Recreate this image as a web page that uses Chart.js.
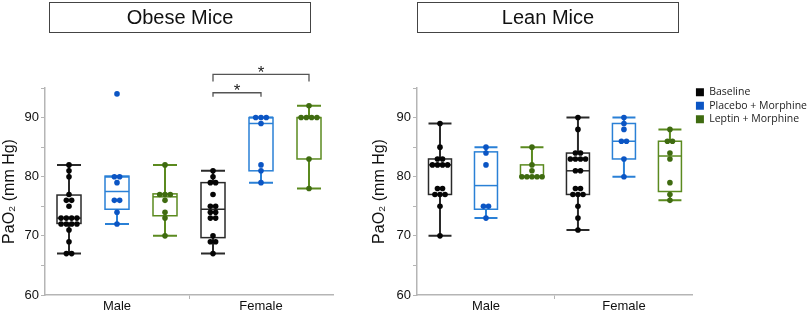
<!DOCTYPE html>
<html>
<head>
<meta charset="utf-8">
<script src="https://cdn.jsdelivr.net/npm/chart.js@4.4.0/dist/chart.umd.min.js"></script>
<style>
body{margin:0;background:#fff;width:809px;height:312px;overflow:hidden;position:relative;font-family:"Liberation Sans",Arial,sans-serif;}
.ttl{position:absolute;top:2px;width:262px;height:31px;box-sizing:border-box;border:1.5px solid #444;text-align:center;font-size:20px;line-height:28px;color:#111;}
.wrap{position:absolute;top:0;height:312px;}
</style>
</head>
<body>
<div class="wrap" style="left:0;width:370px"><canvas id="obese" width="370" height="312"></canvas></div>
<div class="wrap" style="left:370px;width:439px"><canvas id="lean" width="439" height="312"></canvas></div>
<div class="ttl" style="left:49px">Obese Mice</div>
<div class="ttl" style="left:417px">Lean Mice</div>
<script>
// groups and treatments
var sexes = ['Male', 'Female'];
var treatments = ['Baseline', 'Placebo + Morphine', 'Leptin + Morphine'];
var yTicks = [60, 70, 80, 90];

// obese mice, PaO2 values per animal
var obeseBaselineMale = [82, 81, 80, 77, 76, 76, 75, 73, 73, 73, 73, 72, 72, 72, 72, 71, 69, 67, 67];
var obesePlaceboMale = [94, 80, 80, 79, 76, 76, 74, 72];
var obeseLeptinMale = [82, 77, 77, 77, 76, 74, 73, 70];
var obeseBaselineFemale = [81, 80, 79, 79, 77, 75, 75, 74, 74, 73, 73, 70, 69, 69, 67];
var obesePlaceboFemale = [90, 90, 90, 89, 82, 81, 79];
var obeseLeptinFemale = [92, 90, 90, 90, 90, 83, 78];

// lean mice
var leanBaselineMale = [89, 85, 83, 83, 82, 82, 82, 82, 78, 78, 77, 77, 77, 75, 70];
var leanPlaceboMale = [85, 84, 82, 75, 75, 73];
var leanLeptinMale = [85, 82, 81, 80, 80, 80, 80, 80];
var leanBaselineFemale = [90, 88, 84, 84, 83, 83, 83, 83, 81, 81, 78, 78, 77, 77, 77, 75, 73, 71];
var leanPlaceboFemale = [90, 89, 88, 86, 86, 83, 80];
var leanLeptinFemale = [88, 86, 86, 84, 83, 79, 77, 76];

// box stats [whisker low, q1, median, q3, whisker high]
var obeseBoxBaselineMale = [67, 72.1, 73, 76.9, 82];
var obeseBoxPlaceboMale = [72, 74.5, 77.5, 80.1, 80];
var obeseBoxLeptinMale = [70, 73.4, 76.6, 77.1, 82];
var obeseBoxBaselineFemale = [67, 69.7, 74.5, 79, 81];
var obeseBoxPlaceboFemale = [79, 81, 89, 90, 90];
var obeseBoxLeptinFemale = [78, 83, 90, 90, 92];
var leanBoxBaselineMale = [70, 77, 82, 83, 89];
var leanBoxPlaceboMale = [73, 74.5, 78.5, 84.2, 85];
var leanBoxLeptinMale = [80, 80, 80, 82, 85];
var leanBoxBaselineFemale = [71, 77, 81, 84, 90];
var leanBoxPlaceboFemale = [80, 83, 86, 89, 90];
var leanBoxLeptinFemale = [76, 77.5, 83.5, 86, 88];

// significance brackets (obese females): from group, to group, level
var sigFrom = [3.5, 3.5];
var sigTo = [4.5, 5.5];
var sigLevel = [94.2, 97.3];

var pointColors = ['#050505', '#0b55c4', '#3f6b10'];
var boxColors = ['#2a2a2a', '#2a80d6', '#5b8a1f'];

// spread equal values sideways
function swarm(vals, cx) {
	var out = [];
	var counts = {};
	vals.forEach(function(v){ counts[v] = (counts[v] || 0) + 1; });
	var seen = {};
	vals.forEach(function(v){
		var n = counts[v];
		var i = seen[v] || 0;
		seen[v] = i + 1;
		out.push({x: cx + (i - (n - 1) / 2) * 0.11, y: v});
	});
	return out;
}

function makeChart(id, pts, boxes, showLegend, brackets, yw, padRight) {
	var datasets = [];
	for (var t = 0; t < 3; t++) {
		datasets.push({
			label: treatments[t],
			data: swarm(pts[t][0], t + 0.5).concat(swarm(pts[t][1], t + 3.5)),
			backgroundColor: pointColors[t],
			borderColor: pointColors[t],
			pointRadius: 2.8,
			pointBorderWidth: 0
		});
	}

	var boxPlugin = {
		id: 'boxes',
		beforeDatasetsDraw: function(chart) {
			var c = chart.ctx, xs = chart.scales.x, ys = chart.scales.y;
			for (var t = 0; t < 3; t++) {
				for (var s = 0; s < 2; s++) {
					var b = boxes[t][s];
					var cx = xs.getPixelForValue(t + 0.5 + s * 3);
					var hw = xs.getPixelForValue(t + 0.5 + s * 3 + 0.25) - cx;
					c.save();
					c.strokeStyle = boxColors[t];
					c.lineWidth = 2;
					c.beginPath();
					c.moveTo(cx, ys.getPixelForValue(b[0])); c.lineTo(cx, ys.getPixelForValue(b[1]));
					c.moveTo(cx, ys.getPixelForValue(b[3])); c.lineTo(cx, ys.getPixelForValue(b[4]));
					c.moveTo(cx - hw, ys.getPixelForValue(b[0])); c.lineTo(cx + hw, ys.getPixelForValue(b[0]));
					c.moveTo(cx - hw, ys.getPixelForValue(b[4])); c.lineTo(cx + hw, ys.getPixelForValue(b[4]));
					c.stroke();
					c.lineWidth = 1.5;
					c.strokeRect(cx - hw, ys.getPixelForValue(b[3]), 2 * hw, ys.getPixelForValue(b[1]) - ys.getPixelForValue(b[3]));
					c.beginPath();
					c.moveTo(cx - hw, ys.getPixelForValue(b[2])); c.lineTo(cx + hw, ys.getPixelForValue(b[2]));
					c.stroke();
					c.restore();
				}
			}
		},
		afterDraw: function(chart) {
			if (!brackets) return;
			var c = chart.ctx, xs = chart.scales.x, ys = chart.scales.y;
			for (var i = 0; i < sigFrom.length; i++) {
				var x1 = xs.getPixelForValue(sigFrom[i]), x2 = xs.getPixelForValue(sigTo[i]);
				var y = ys.getPixelForValue(sigLevel[i]);
				var leg = i === 0 ? 4 : 7;
				c.save();
				c.strokeStyle = '#555';
				c.lineWidth = 1.3;
				c.beginPath();
				c.moveTo(x1, y + leg); c.lineTo(x1, y); c.lineTo(x2, y); c.lineTo(x2, y + leg);
				c.stroke();
				c.fillStyle = '#222';
				c.font = '17px "Liberation Sans", Arial';
				c.textAlign = 'center';
				c.textBaseline = 'middle';
				c.fillText('*', (x1 + x2) / 2, y - 1);
				c.restore();
			}
		}
	};

	return new Chart(document.getElementById(id), {
		type: 'scatter',
		data: {datasets: datasets},
		plugins: [boxPlugin],
		options: {
			responsive: false,
			animation: false,
			events: [],
			layout: {padding: {top: 84, right: padRight, left: 0, bottom: 0}},
			plugins: {
				tooltip: {enabled: false},
				// thin spacer so the plot starts below the legend top
				title: {display: true, text: ' ', fullSize: false, padding: 0, font: {size: 4, lineHeight: 1}},
				legend: {
					display: showLegend,
					position: 'right',
					align: 'start',
					maxWidth: 200,
					labels: {boxWidth: 8, boxHeight: 8, padding: 3, color: '#222',
						font: {family: '"Open Sans", sans-serif', size: 10.5}}
				}
			},
			scales: {
				x: {
					type: 'linear', min: 0, max: 6,
					afterBuildTicks: function(sc){ sc.ticks = [{value: 1.5}, {value: 3}, {value: 4.5}]; },
					afterFit: function(sc){ sc.height = 17; },
					border: {color: '#b5b5b5', width: 1.5},
					grid: {drawOnChartArea: false, tickLength: 4,
						tickColor: function(ctx){ return ctx.tick && ctx.tick.value === 3 ? '#b5b5b5' : 'rgba(0,0,0,0)'; }},
					ticks: {autoSkip: false, maxRotation: 0, padding: 0, color: '#111',
						font: {family: '"Liberation Sans", Arial', size: 13},
						callback: function(v){ return v === 1.5 ? sexes[0] : v === 4.5 ? sexes[1] : ''; }}
				},
				y: {
					min: 60, max: 95,
					afterFit: function(sc){ sc.width = yw; },
					border: {color: '#b5b5b5', width: 1.5},
					grid: {drawOnChartArea: false, tickLength: 4, tickColor: '#b5b5b5'},
					ticks: {stepSize: 5, padding: 2, color: '#111',
						font: {family: '"Liberation Sans", Arial', size: 13},
						callback: function(v){ return yTicks.indexOf(v) >= 0 ? v : ''; }},
					title: {display: true, text: 'PaO\u2082 (mm Hg)', color: '#111', padding: 0,
						font: {family: '"Liberation Sans", Arial', size: 16}}
				}
			}
		}
	});
}

makeChart('obese',
	[[obeseBaselineMale, obeseBaselineFemale], [obesePlaceboMale, obesePlaceboFemale], [obeseLeptinMale, obeseLeptinFemale]],
	[[obeseBoxBaselineMale, obeseBoxBaselineFemale], [obeseBoxPlaceboMale, obeseBoxPlaceboFemale], [obeseBoxLeptinMale, obeseBoxLeptinFemale]],
	false, true, 45, 37);

makeChart('lean',
	[[leanBaselineMale, leanBaselineFemale], [leanPlaceboMale, leanPlaceboFemale], [leanLeptinMale, leanLeptinFemale]],
	[[leanBoxBaselineMale, leanBoxBaselineFemale], [leanBoxPlaceboMale, leanBoxPlaceboFemale], [leanBoxLeptinMale, leanBoxLeptinFemale]],
	true, false, 47, -8);
</script>
</body>
</html>
